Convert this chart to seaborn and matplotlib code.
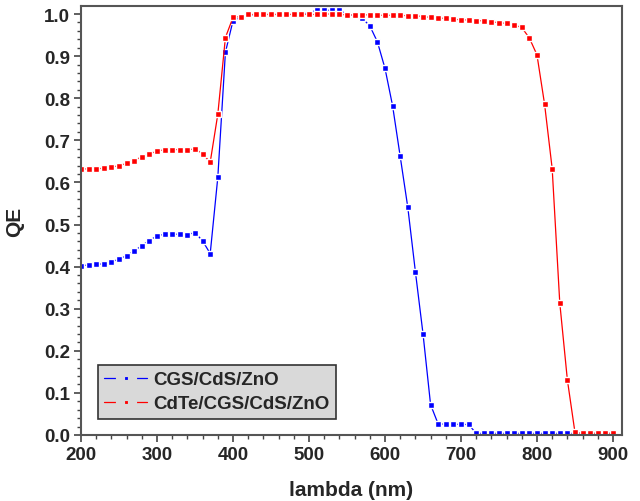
import numpy as np
import pandas as pd
import matplotlib
matplotlib.use("Agg")
import matplotlib.pyplot as plt
import seaborn as sns
from matplotlib.ticker import MultipleLocator
from matplotlib.lines import Line2D

wavelength = list(range(200, 901, 10))

qe_cgs = [0.402, 0.404, 0.405, 0.407, 0.411, 0.418, 0.426, 0.437, 0.450, 0.462,
          0.473, 0.477, 0.477, 0.477, 0.476, 0.481, 0.461, 0.431, 0.612, 0.909,
          0.984, 0.992, 0.997, 0.998, 0.999, 0.999, 0.999, 0.999, 0.999, 1.000,
          1.003, 1.009, 1.009, 1.009, 1.009, 1.000, 0.995, 0.990, 0.972, 0.934,
          0.871, 0.782, 0.662, 0.541, 0.388, 0.241, 0.072, 0.026, 0.026, 0.026,
          0.025, 0.025, 0.004, 0.004, 0.004, 0.004, 0.004, 0.004, 0.004, 0.004,
          0.004, 0.004, 0.004, 0.004, 0.004, 0.004, 0.004, 0.004, 0.004, 0.004,
          0.004]

qe_cdte = [0.632, 0.632, 0.632, 0.634, 0.636, 0.640, 0.645, 0.652, 0.661, 0.668,
           0.674, 0.678, 0.678, 0.678, 0.677, 0.680, 0.668, 0.648, 0.762, 0.944,
           0.992, 0.994, 0.999, 0.999, 0.999, 0.999, 0.999, 0.999, 0.999, 0.999,
           0.999, 0.999, 1.000, 1.000, 0.999, 0.998, 0.998, 0.998, 0.998, 0.997,
           0.997, 0.997, 0.997, 0.996, 0.996, 0.994, 0.992, 0.990, 0.990, 0.988,
           0.986, 0.986, 0.984, 0.984, 0.982, 0.979, 0.978, 0.974, 0.968, 0.943,
           0.903, 0.786, 0.633, 0.314, 0.131, 0.006, 0.004, 0.004, 0.004, 0.004,
           0.004]

series_names = ["CGS/CdS/ZnO", "CdTe/CGS/CdS/ZnO"]
series_colors = ["#0000ff", "#ff0000"]
x_ticks = [200, 300, 400, 500, 600, 700, 800, 900]
y_ticks = [0.0, 0.1, 0.2, 0.3, 0.4, 0.5, 0.6, 0.7, 0.8, 0.9, 1.0]

sns.set_style("white")
plt.rcParams['font.family'] = ['Liberation Sans', 'DejaVu Sans']
plt.rcParams['font.weight'] = 'bold'

fig = plt.figure(figsize=(6.4, 5.02), dpi=100)
ax = fig.add_axes([0.1266, 0.1315, 0.972 - 0.1266, 0.986 - 0.1315])

df_cgs = pd.DataFrame({"lambda": wavelength, "QE": qe_cgs})
df_cdte = pd.DataFrame({"lambda": wavelength, "QE": qe_cdte})

# blue drawn first, red on top
for df, col in [(df_cgs, series_colors[0]), (df_cdte, series_colors[1])]:
    sns.lineplot(data=df, x="lambda", y="QE", ax=ax, color=col, linewidth=0.9,
                 marker="s", markersize=4.4, markeredgewidth=1.0,
                 markeredgecolor="white", markerfacecolor=col, legend=False)

ax.set_xlim(200, 912)
ax.set_ylim(0, 1.019)
ax.set_xticks(x_ticks)
ax.set_yticks(y_ticks)
ax.set_xticklabels([str(t) for t in x_ticks], fontsize=13.5, fontweight='bold')
ax.set_yticklabels([f"{t:.1f}" for t in y_ticks], fontsize=13.5, fontweight='bold')
ax.xaxis.set_minor_locator(MultipleLocator(20))
ax.yaxis.set_minor_locator(MultipleLocator(0.02))
ax.tick_params(axis='both', which='major', direction='out', length=5, width=1.2,
               color='#444444', bottom=True, left=True, top=False, right=False, pad=3)
ax.tick_params(axis='both', which='minor', direction='out', length=3, width=1.0,
               color='#444444', bottom=True, left=True, top=False, right=False)
for s in ax.spines.values():
    s.set_color('#555555')
    s.set_linewidth(1.5)

ax.set_xlabel("lambda (nm)", fontsize=15, fontweight='bold', labelpad=12)
ax.set_ylabel("QE", fontsize=15, fontweight='bold', labelpad=14)

legend_bg = '#d9d9d9'
handles = [Line2D([], [], color=c, linewidth=0.9, marker='s', markersize=9.0,
                  markeredgewidth=6.6, markeredgecolor=legend_bg, markerfacecolor=c)
           for c in series_colors]
leg = ax.legend(handles, series_names, loc='lower left',
                bbox_to_anchor=(0.031, 0.038), fontsize=13.5, numpoints=1,
                frameon=True, fancybox=False, framealpha=1, facecolor=legend_bg,
                edgecolor='#333333', borderpad=0.35, handlelength=2.3,
                handletextpad=0.33, labelspacing=0.35, borderaxespad=0)
leg.get_frame().set_linewidth(1.2)
for t in leg.get_texts():
    t.set_fontweight('bold')

fig.savefig("out.png", dpi=100)
